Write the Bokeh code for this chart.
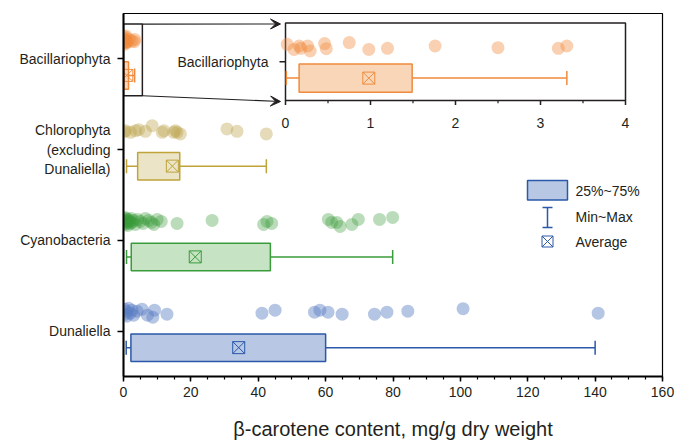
from bokeh.plotting import figure
from bokeh.models import Range1d, FixedTicker, SingleIntervalTicker, ColumnDataSource, Arrow, VeeHead
from bokeh.core.properties import value
from bokeh.embed import file_html
from bokeh.resources import INLINE

# ---------------- data ----------------
groups = ["Dunaliella", "Cyanobacteria", "Chlorophyta", "Bacillariophyta"]
group_labels = ["Dunaliella", "Cyanobacteria", "Chlorophyta\n(excluding\nDunaliella)", "Bacillariophyta"]

stat_min = [0.8, 0.9, 0.9, 0.01]
stat_q1 = [2.2, 2.3, 4.2, 0.16]
stat_q3 = [60.0, 43.6, 16.7, 1.49]
stat_max = [140.0, 79.9, 42.4, 3.31]
stat_mean = [34.2, 21.3, 14.5, 0.98]

duna_values = [0.3, 0.5, 0.8, 1.0, 1.5, 2.0, 2.5, 3.0, 4.0, 5.5, 7.1, 8.7, 9.2, 12.9,
               41.1, 45.0, 56.7, 58.3, 60.7, 64.9, 74.5, 78.2, 84.4, 100.8, 140.9]
duna_jitter = [3, -2, 1, -4, 4, -1, 2, -3, 1, 3, -3, -5, 2, -2,
               -1, 2, 0, 2, 0, -2, -2, 0, 1, 3.5, -1]

cyano_values = [0.2, 0.3, 0.4, 0.5, 0.6, 0.8, 1.0, 1.1, 1.3, 1.5, 1.8, 2.0, 2.3, 2.6, 3.0,
                3.5, 4.2, 5.0, 5.8, 6.5, 7.5, 8.3, 9.0, 10.0, 11.2, 15.9, 26.3, 41.6, 42.6,
                44.0, 60.8, 61.8, 63.3, 64.3, 67.8, 69.7, 76.0, 79.9]
cyano_jitter = [2, -2, 4, 0, -3, 3, -1, 1, -4, 2, 0, -2, 3, -1, 1,
                -3, 2, 0, -2, 3, 1, -1, -3, 2, 0, -2, 1, -3, 0,
                -2, 2, -1, -1, -5, -3, 2, 2, 4]

chloro_values = [0.3, 0.6, 2.1, 3.6, 4.5, 6.5, 8.5, 11.5, 12.0, 14.9, 15.4, 15.9, 16.9,
                 30.7, 33.7, 42.4]
chloro_jitter = [-1, 0, -1.7, 0, 1, -0.7, 5, -1.7, 0, -1.7, 0, -1.7, -3.3, 1.7, -0.7, -3.3]

bacill_values = [0.02, 0.1, 0.16, 0.18, 0.26, 0.29, 0.46, 0.48, 0.75, 0.98, 1.2, 1.76,
                 2.5, 3.21, 3.31]
bacill_jitter = [2.2, -2.9, 0.5, -1.8, 0.5, -4.5, 2.9, -2.2, 3.9, -2.9, -1.8, 0.5,
                 -1.2, -1.8, 0.5]

x_ticks_main = [0, 20, 40, 60, 80, 100, 120, 140, 160]
x_ticks_inset = [0, 1, 2, 3, 4]
legend_labels = ["25%~75%", "Min~Max", "Average"]

# ---------------- style ----------------
edge_colors = ["#2B58A8", "#3A9B3A", "#BFA43A", "#F08A3C"]
box_fills = ["#B7C7E4", "#C6E3C4", "#EBE4C7", "#F9D6B8"]
point_colors = ["#5B7FC4", "#3A9B3A", "#BFA650", "#F08A3C"]
point_alpha = [0.45, 0.35, 0.4, 0.4]
TEXT = "#231F20"
FONT = "Liberation Sans"

W, H = 675, 442
B_LEFT, B_RIGHT, B_TOP, B_BOTTOM = 123, 13, 13, 66
FRAME_W = W - B_LEFT - B_RIGHT
FRAME_H = H - B_TOP - B_BOTTOM
X0, X1 = 0, 160
Y0, Y1 = 0, 4
PX_X = FRAME_W / (X1 - X0)
PX_Y = FRAME_H / (Y1 - Y0)


def dx(px):  # page pixel -> main x
    return X0 + (px - B_LEFT) / PX_X


def dy(py):  # page pixel -> main y
    return Y0 + (B_TOP + FRAME_H - py) / PX_Y


POINT_OFF = 19 / PX_Y
BOX_OFF = -16.5 / PX_Y
BOX_H = 27.5 / PX_Y
CAP_H = 14 / PX_Y

p = figure(width=W, height=H, output_backend="svg", toolbar_location=None,
           x_range=Range1d(X0, X1), y_range=Range1d(Y0, Y1),
           min_border_left=B_LEFT, min_border_right=B_RIGHT,
           min_border_top=B_TOP, min_border_bottom=B_BOTTOM)
p.grid.visible = False
p.outline_line_color = "black"
p.outline_line_width = 1.2
p.background_fill_color = "white"
p.border_fill_color = "white"

# axes
xa = p.xaxis[0]
xa.ticker = SingleIntervalTicker(interval=20, num_minor_ticks=4)
xa.axis_label = "β-carotene content, mg/g dry weight"
xa.axis_label_text_font = FONT
xa.axis_label_text_font_size = "20px"
xa.axis_label_text_font_style = "normal"
xa.axis_label_text_color = TEXT
xa.axis_label_standoff = 18
xa.major_label_text_font = FONT
xa.major_label_text_font_size = "14px"
xa.major_label_text_color = TEXT
xa.major_label_standoff = 5
xa.axis_line_width = 2
xa.major_tick_in = 0
xa.major_tick_out = 5
xa.minor_tick_in = 0
xa.minor_tick_out = 3
xa.major_tick_line_width = 1.5
xa.minor_tick_line_width = 1.2

ya = p.yaxis[0]
row_centers = [i + 0.5 for i in range(len(groups))]
ya.ticker = FixedTicker(ticks=row_centers, minor_ticks=[])
ya.major_label_overrides = {c: lab for c, lab in zip(row_centers, group_labels)}
ya.major_label_text_font = FONT
ya.major_label_text_font_size = "14px"
ya.major_label_text_color = TEXT
ya.major_label_text_align = "center"
ya.major_label_standoff = 7
ya.axis_line_width = 2
ya.major_tick_in = 0
ya.major_tick_out = 6
ya.major_tick_line_width = 1.5

# ---------------- main plot ----------------
point_sets = [(duna_values, duna_jitter), (cyano_values, cyano_jitter),
              (chloro_values, chloro_jitter), (bacill_values, bacill_jitter)]
for i, (vals, jit) in enumerate(point_sets):
    ys = [row_centers[i] + POINT_OFF + j / PX_Y for j in jit]
    p.scatter(x=vals, y=ys, size=13, fill_color=point_colors[i], fill_alpha=point_alpha[i],
              line_color=None)

box_y = [c + BOX_OFF for c in row_centers]
src = ColumnDataSource(dict(y=box_y, mn=stat_min, q1=stat_q1, q3=stat_q3, mx=stat_max,
                            mean=stat_mean, edge=edge_colors, fill=box_fills,
                            yb=[y - CAP_H / 2 for y in box_y], yt=[y + CAP_H / 2 for y in box_y]))
p.segment(x0="mn", y0="y", x1="q1", y1="y", line_color="edge", line_width=1.5, source=src)
p.segment(x0="q3", y0="y", x1="mx", y1="y", line_color="edge", line_width=1.5, source=src)
p.segment(x0="mx", y0="yb", x1="mx", y1="yt", line_color="edge", line_width=1.5, source=src)
p.segment(x0="mn", y0="yb", x1="mn", y1="yt", line_color="edge", line_width=1.5, source=src)
p.hbar(y="y", left="q1", right="q3", height=BOX_H, fill_color="fill", line_color="edge",
       line_width=1.5, source=src)
p.scatter(x="mean", y="y", marker="square_x", size=12, fill_alpha=0, line_color="edge",
          line_width=1, source=src)

# ---------------- zoom window + inset ----------------
ZOOM_XMAX = 5.6
zoom_top = row_centers[3] + 34.8 / PX_Y
zoom_bottom = row_centers[3] - 36.9 / PX_Y
p.quad(left=X0, right=ZOOM_XMAX, bottom=zoom_bottom, top=zoom_top, fill_alpha=0,
       line_color="#231F20", line_width=1.5)

# inset occupies page px x 285..625, y 22.5..100
INSET_L, INSET_R, INSET_T, INSET_B = 285, 625, 22.5, 100
IX0, IX1 = 0, 4
ipx_x = (INSET_R - INSET_L) / (IX1 - IX0)
ipx_y = (INSET_B - INSET_T)
p.extra_x_ranges = {"inset": Range1d(IX0 - (INSET_L - B_LEFT) / ipx_x,
                                     IX1 + (B_LEFT + FRAME_W - INSET_R) / ipx_x)}
p.extra_y_ranges = {"inset_y": Range1d(-(B_TOP + FRAME_H - INSET_B) / ipx_y,
                                       1 + (INSET_T - B_TOP) / ipx_y)}
ir = dict(x_range_name="inset", y_range_name="inset_y")

p.quad(left=IX0, right=IX1, bottom=0, top=1, fill_color="white", line_color="#231F20",
       line_width=1.5, **ir)

# arrows
for ys, ye in [(zoom_top, dy(INSET_T + 1)), (zoom_bottom, dy(INSET_B + 1))]:
    p.add_layout(Arrow(end=VeeHead(size=10, fill_color="#231F20", line_color="#231F20"),
                       x_start=ZOOM_XMAX, y_start=ys, x_end=dx(INSET_L - 5), y_end=ye,
                       line_color="#231F20", line_width=1.2))

# inset axis ticks/labels
tick_len = 4.5 / ipx_y
p.segment(x0=x_ticks_inset, y0=[0] * 5, x1=x_ticks_inset, y1=[-tick_len] * 5,
          line_color="#231F20", line_width=1.5, **ir)
minor_inset = [t + 0.5 for t in x_ticks_inset[:-1]]
p.segment(x0=minor_inset, y0=[0] * 4, x1=minor_inset, y1=[-tick_len * 0.6] * 4,
          line_color="#231F20", line_width=1.2, **ir)
p.text(x=x_ticks_inset, y=[-22 / ipx_y] * 5, text=[str(t) for t in x_ticks_inset],
       text_align="center", text_baseline="middle", text_font=value(FONT),
       text_font_size="14px", text_color=TEXT, **ir)
# inset y tick + label
p.segment(x0=[IX0], y0=[0.5], x1=[IX0 - 6 / ipx_x], y1=[0.5], line_color="#231F20",
          line_width=1.5, **ir)
p.text(x=[IX0 - 17 / ipx_x], y=[0.5], text=[groups[3]], text_align="right",
       text_baseline="middle", text_font=value(FONT), text_font_size="14px",
       text_color=TEXT, **ir)

# inset content
i_pts = 0.697
i_box = 0.289
i_bh = 28.4 / ipx_y
i_cap = 14 / ipx_y
p.scatter(x=bacill_values, y=[i_pts + j / ipx_y for j in bacill_jitter], size=13,
          fill_color=point_colors[3], fill_alpha=point_alpha[3], line_color=None, **ir)
p.segment(x0=[stat_min[3], stat_q3[3], stat_max[3], stat_min[3]],
          y0=[i_box, i_box, i_box - i_cap / 2, i_box - i_cap / 2],
          x1=[stat_q1[3], stat_max[3], stat_max[3], stat_min[3]],
          y1=[i_box, i_box, i_box + i_cap / 2, i_box + i_cap / 2],
          line_color=edge_colors[3], line_width=1.5, **ir)
p.hbar(y=[i_box], left=[stat_q1[3]], right=[stat_q3[3]], height=i_bh,
       fill_color=box_fills[3], line_color=edge_colors[3], line_width=1.5, **ir)
p.scatter(x=[stat_mean[3]], y=[i_box], marker="square_x", size=12, fill_alpha=0,
          line_color=edge_colors[3], line_width=1, **ir)

# ---------------- legend ----------------
lc = edge_colors[0]
p.quad(left=dx(527), right=dx(567), top=dy(180), bottom=dy(199.5), fill_color=box_fills[0],
       line_color=lc, line_width=1.5)
p.segment(x0=[dx(547), dx(542), dx(542)], y0=[dy(207), dy(207), dy(227)],
          x1=[dx(547), dx(552), dx(552)], y1=[dy(227), dy(207), dy(227)],
          line_color=lc, line_width=1.5)
p.scatter(x=[dx(547)], y=[dy(241)], marker="square_x", size=11, fill_alpha=0,
          line_color=lc, line_width=1)
p.text(x=[dx(575)] * 3, y=[dy(190), dy(216), dy(241)], text=legend_labels,
       text_align="left", text_baseline="middle", text_font=value(FONT),
       text_font_size="14px", text_color=TEXT)

open("out.html", "w").write(file_html(p, INLINE))
